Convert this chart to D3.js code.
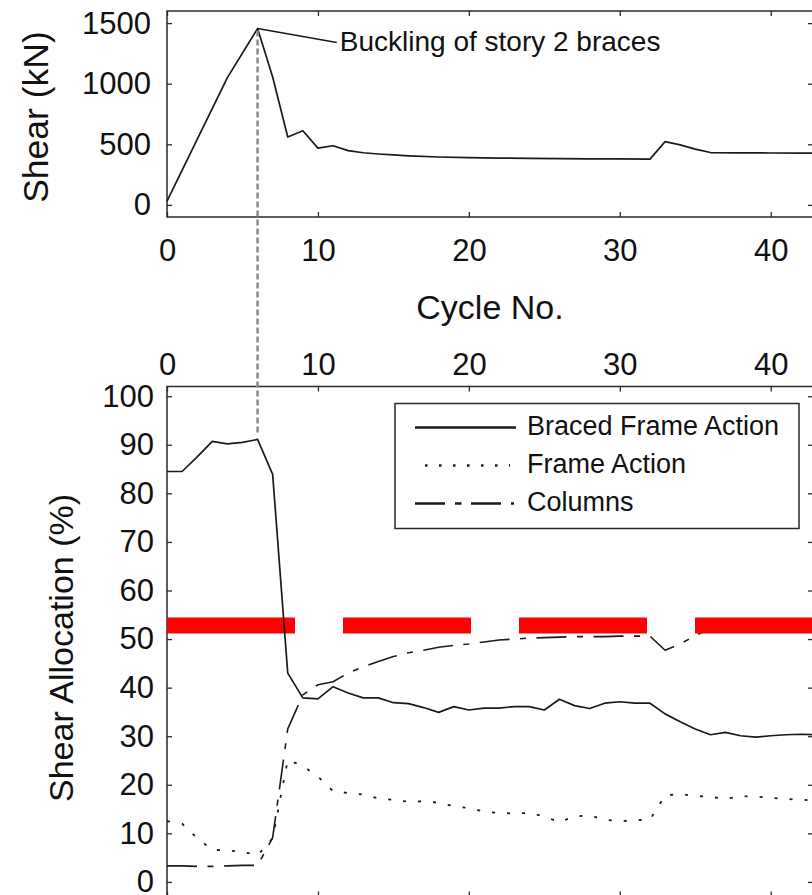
<!DOCTYPE html>
<html>
<head>
<meta charset="utf-8">
<script src="https://cdn.jsdelivr.net/npm/d3@7"></script>
<style>
  html, body { margin: 0; padding: 0; background: #fff; }
  svg { display: block; font-family: "Liberation Sans", Arial, Helvetica, sans-serif; }
</style>
</head>
<body>
<svg id="chart" width="812" height="895"></svg>
<script>
// shear history (top panel)
const shearCycles = [0, 4, 6, 7, 8, 9, 10, 11, 12, 13, 14, 15, 16, 18, 20, 22, 24, 26, 28, 30, 32, 33, 34, 35, 36, 38, 40, 42, 43];
const shearKN     = [30, 1050, 1455, 1055, 560, 612, 468, 488, 448, 430, 420, 412, 405, 395, 390, 386, 384, 382, 380, 379, 378, 522, 495, 460, 432, 430, 428, 427, 427];

// shear allocation (bottom panel)
const cycles  = [0, 1, 2, 3, 4, 5, 6, 7, 8, 9, 10, 11, 12, 13, 14, 15, 16, 17, 18, 19, 20, 21,
                 22, 23, 24, 25, 26, 27, 28, 29, 30, 31, 32, 33, 34, 35, 36, 37, 38, 39, 40, 41, 42, 43];
const braced  = [84.5, 84.5, 87.5, 90.7, 90.2, 90.5, 91.1, 83.9, 43.0, 37.9, 37.7, 40.2, 38.9, 37.9, 37.9, 36.9, 36.7, 35.9, 34.9, 36.1, 35.4, 35.8,
                 35.8, 36.1, 36.1, 35.4, 37.6, 36.3, 35.7, 36.8, 37.1, 36.8, 36.8, 34.6, 33.0, 31.5, 30.3, 30.8, 30.1, 29.8, 30.1, 30.3, 30.4, 30.3];
const frame   = [12.5, 12.0, 9.0, 6.6, 6.5, 6.2, 5.5, 9.0, 25.1, 23.9, 21.7, 18.7, 18.3, 18.0, 17.2, 16.9, 16.5, 16.6, 16.3, 15.6, 15.2, 14.5,
                 14.2, 14.1, 14.2, 13.5, 12.3, 13.5, 13.7, 12.8, 12.5, 12.7, 12.8, 17.8, 18.1, 17.7, 17.5, 17.1, 17.6, 17.6, 17.3, 17.1, 16.9, 16.8];
const columns = [3.3, 3.3, 3.2, 3.2, 3.3, 3.4, 3.4, 9.1, 31.5, 38.5, 40.6, 41.2, 43.0, 44.3, 45.4, 46.4, 47.2, 47.7, 48.3, 48.7, 49.0, 49.4,
                 49.8, 50.0, 50.2, 50.3, 50.4, 50.5, 50.5, 50.5, 50.6, 50.6, 50.6, 47.7, 49.0, 50.7, 52.2, 52.1, 52.3, 52.6, 52.6, 52.6, 52.7, 52.9];

const xTicks = [0, 10, 20, 30, 40];
const shearTicks = [0, 500, 1000, 1500];
const allocTicks = [0, 10, 20, 30, 40, 50, 60, 70, 80, 90, 100];
const redLevel = 52.8;               // red dashed highlight
const peak = {cycle: 6, shear: 1455, alloc: 92.5};
const note = {cycle: 11.25, shear: 1340, text: "Buckling of story 2 braces"};
const legendNames = ["Braced Frame Action", "Frame Action", "Columns"];

const svg = d3.select("#chart");
const ink = "#1a1a1a";
const fmt = d3.format("d");

const x = d3.scaleLinear().domain([0, 42.8]).range([167, 813]);
const y1 = d3.scaleLinear().domain([-100, 1600]).range([217, 11]);
const y2 = d3.scaleLinear().domain([-3, 102]).range([896.5, 386.5]);

const styles = {
  solid:   {dash: null,             width: 1.7},
  dotted:  {dash: "3 12",           width: 1.8},
  dashdot: {dash: "30 10.5 6 10.5", width: 1.6}
};

function frameBox(yScale) {
  const [b, t] = yScale.range();
  svg.append("rect")
    .attr("x", x.range()[0]).attr("y", t)
    .attr("width", x.range()[1] - x.range()[0]).attr("height", b - t)
    .attr("fill", "none").attr("stroke", "#2a2a2a").attr("stroke-width", 1.5);
}

function tidy(g) {
  g.select(".domain").remove();
  g.selectAll(".tick line").attr("stroke", "#2a2a2a").attr("stroke-width", 1.3);
  g.selectAll("text").attr("fill", "#111").style("font-size", "31px");
}

// ---------- top panel ----------
const [b1, t1] = y1.range();
svg.append("g").attr("transform", `translate(${x(0)},0)`)
  .call(d3.axisLeft(y1).tickValues(shearTicks).tickFormat(fmt).tickSize(-5).tickPadding(16)).call(tidy);
svg.append("g").attr("transform", `translate(${x.range()[1]},0)`)
  .call(d3.axisRight(y1).tickValues(shearTicks).tickSize(-5).tickFormat("")).call(tidy);
svg.append("g").attr("transform", `translate(0,${b1})`)
  .call(d3.axisBottom(x).tickValues(xTicks).tickFormat(fmt).tickSize(-5).tickPadding(22)).call(tidy);
svg.append("g").attr("transform", `translate(0,${t1})`)
  .call(d3.axisTop(x).tickValues(xTicks).tickSize(-5).tickFormat("")).call(tidy);
frameBox(y1);

svg.append("path")
  .datum(shearCycles.map((c, i) => [c, shearKN[i]]))
  .attr("fill", "none").attr("stroke", ink).attr("stroke-width", 1.7)
  .attr("stroke-linejoin", "round")
  .attr("d", d3.line().x(d => x(d[0])).y(d => y1(d[1])));

svg.append("line")
  .attr("x1", x(peak.cycle)).attr("y1", y1(peak.shear))
  .attr("x2", x(note.cycle)).attr("y2", y1(note.shear))
  .attr("stroke", ink).attr("stroke-width", 1.6);
svg.append("text")
  .attr("x", x(note.cycle) + 3).attr("y", y1(note.shear) + 8)
  .style("font-size", "28px").attr("fill", "#111")
  .text(note.text);

svg.append("text")
  .attr("transform", `translate(48,117) rotate(-90)`)
  .attr("text-anchor", "middle").style("font-size", "35.5px").attr("fill", "#111")
  .text("Shear (kN)");

svg.append("text")
  .attr("x", 490).attr("y", 319).attr("text-anchor", "middle")
  .style("font-size", "34px").attr("fill", "#111")
  .text("Cycle No.");

// ---------- bottom panel ----------
const [b2, t2] = y2.range();
svg.append("g").attr("transform", `translate(${x(0)},0)`)
  .call(d3.axisLeft(y2).tickValues(allocTicks).tickFormat(fmt).tickSize(-5).tickPadding(13)).call(tidy);
svg.append("g").attr("transform", `translate(${x.range()[1]},0)`)
  .call(d3.axisRight(y2).tickValues(allocTicks).tickSize(-5).tickFormat("")).call(tidy);
svg.append("g").attr("transform", `translate(0,${t2})`)
  .call(d3.axisTop(x).tickValues(xTicks).tickFormat(fmt).tickSize(-5).tickPadding(12)).call(tidy);
svg.append("g").attr("transform", `translate(0,${b2})`)
  .call(d3.axisBottom(x).tickValues(xTicks).tickSize(-5).tickFormat("")).call(tidy);
frameBox(y2);

const line2 = d3.line().x((d, i) => x(cycles[i])).y(d => y2(d));
function series(vals, st) {
  svg.append("path").datum(vals)
    .attr("fill", "none").attr("stroke", ink)
    .attr("stroke-width", st.width)
    .attr("stroke-dasharray", st.dash)
    .attr("stroke-linejoin", "round")
    .attr("d", line2);
}

series(columns, styles.dashdot);

svg.append("line")
  .attr("x1", x(0)).attr("x2", x.range()[1])
  .attr("y1", y2(redLevel)).attr("y2", y2(redLevel))
  .attr("stroke", "#ff0000").attr("stroke-width", 16)
  .attr("stroke-dasharray", "128 48");

series(braced, styles.solid);
series(frame, styles.dotted);

// vertical marker at brace buckling
svg.append("line")
  .attr("x1", x(peak.cycle)).attr("x2", x(peak.cycle))
  .attr("y1", y1(peak.shear) + 2).attr("y2", y2(peak.alloc))
  .attr("stroke", "#8a8a8a").attr("stroke-width", 2.5)
  .attr("stroke-dasharray", "6 3");

svg.append("text")
  .attr("transform", `translate(73,648) rotate(-90)`)
  .attr("text-anchor", "middle").style("font-size", "34px").attr("fill", "#111")
  .text("Shear Allocation (%)");

// legend
const lg = svg.append("g");
lg.append("rect")
  .attr("x", 395).attr("y", 403.5).attr("width", 404).attr("height", 125)
  .attr("fill", "#fff").attr("stroke", "#2a2a2a").attr("stroke-width", 1.5);
const legendStyles = [
  {dash: null, x1: 415, x2: 516},
  {dash: "2.5 11.5", x1: 425, x2: 510},
  {dash: "30 10 6.5 9.5", x1: 415, x2: 514}
];
legendNames.forEach((name, i) => {
  const yy = 427.5 + i * 38;
  lg.append("line")
    .attr("x1", legendStyles[i].x1).attr("x2", legendStyles[i].x2)
    .attr("y1", yy).attr("y2", yy)
    .attr("stroke", ink).attr("stroke-width", 2.6)
    .attr("stroke-dasharray", legendStyles[i].dash);
  lg.append("text")
    .attr("x", 527).attr("y", yy + 7)
    .style("font-size", "27px").attr("fill", "#111")
    .text(name);
});
</script>
</body>
</html>
